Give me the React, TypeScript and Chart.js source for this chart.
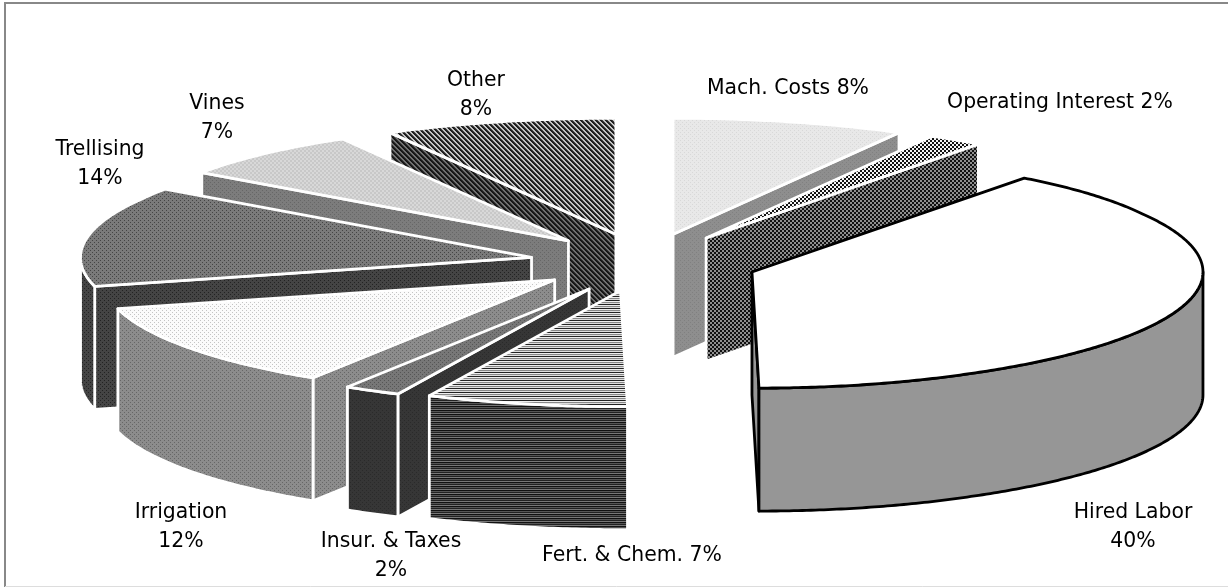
import React, { useEffect, useRef } from "react";
import { Chart, registerables } from "chart.js";

Chart.register(...registerables);

// Budget shares, clockwise from the first slice.
const categories = [
  "Hired Labor",
  "Fert. & Chem.",
  "Insur. & Taxes",
  "Irrigation",
  "Trellising",
  "Vines",
  "Other",
  "Mach. Costs",
  "Operating Interest",
];
const shares = [40, 7, 2, 12, 14, 7, 8, 8, 2];
// How far each slice is pulled out of the pie.
const explode = [113, 110, 115, 111, 115, 115, 115, 115, 115];

// Label anchors: centre x, first line middle y, and whether the percent wraps.
const labelPlacement: [number, number, boolean][] = [
  [1133, 513, true],
  [632, 556, false],
  [391, 542, true],
  [181, 513, true],
  [100, 150, true],
  [217, 104, true],
  [476, 81, true],
  [788, 89, false],
  [1060, 103, false],
];

const WIDTH = 1228;
const HEIGHT = 587;
const SQUASH = 0.2574;
const DEPTH = 123;
// Small rim corrections for the off-axis camera: a drift near the front, a flare near the back.
const FRONT_LEAN = 7;
const FRONT_LEAN_SPAN = 0.5;
const BACK_FLARE = 9;
const BACK_FLARE_PEAK = Math.PI / 6;

function tile(w: number, h: number, colorAt: (x: number, y: number) => string) {
  const c = document.createElement("canvas");
  c.width = w;
  c.height = h;
  const g = c.getContext("2d")!;
  for (let y = 0; y < h; y++) {
    for (let x = 0; x < w; x++) {
      g.fillStyle = colorAt(x, y);
      g.fillRect(x, y, 1, 1);
    }
  }
  return g.createPattern(c, "repeat")!;
}

const bands = (colors: string[]) => tile(1, colors.length, (_x, y) => colors[y]);
const diagonal = (colors: string[]) =>
  tile(colors.length, colors.length, (x, y) => colors[(x - y + colors.length * 2) % colors.length]);
const checker = (a: string, b: string) =>
  tile(4, 4, (x, y) => ((Math.floor(x / 2) + Math.floor(y / 2)) % 2 ? a : b));
const staggered = (base: string, dot: string) =>
  tile(4, 4, (x, y) => ((x === 0 && y === 0) || (x === 2 && y === 2) ? dot : base));

// Draws each slice as an extruded wedge from the arc geometry Chart.js computed.
const extrudedPie = {
  id: "extrudedPie",
  beforeDraw(chart: any) {
    const { ctx } = chart;
    ctx.save();
    ctx.fillStyle = "#ffffff";
    ctx.fillRect(0, 0, WIDTH, HEIGHT);
    ctx.strokeStyle = "#888888";
    ctx.lineWidth = 2;
    ctx.beginPath();
    ctx.moveTo(5, HEIGHT);
    ctx.lineTo(5, 3);
    ctx.lineTo(WIDTH, 3);
    ctx.stroke();
    ctx.strokeStyle = "#dddddd";
    ctx.lineWidth = 1;
    ctx.beginPath();
    ctx.moveTo(5, HEIGHT - 0.5);
    ctx.lineTo(WIDTH, HEIGHT - 0.5);
    ctx.stroke();
    ctx.restore();
  },
  beforeDatasetDraw(chart: any) {
    const { ctx } = chart;
    const meta = chart.getDatasetMeta(0);
    const sides = chart.data.datasets[0].sideColor;

    const wedges = meta.data.map((arc: any, index: number) => {
      const mid = (arc.startAngle + arc.endAngle) / 2;
      const off = arc.options.offset;
      return {
        index,
        arc,
        a0: arc.startAngle,
        a1: arc.endAngle,
        r: arc.outerRadius,
        x: arc.x + Math.cos(mid) * off,
        y: arc.y + Math.sin(mid) * off * SQUASH,
      };
    });
    wedges.sort((p: any, q: any) => p.y - q.y);

    for (const w of wedges) {
      const rim = (a: number) => {
        const fromFront = Math.abs(Math.atan2(Math.sin(a - Math.PI / 2), Math.cos(a - Math.PI / 2)));
        const lean = FRONT_LEAN * Math.max(0, 1 - fromFront / FRONT_LEAN_SPAN);
        const fromBack = Math.PI - fromFront;
        const flare =
          BACK_FLARE * Math.max(0, 1 - Math.abs(fromBack - BACK_FLARE_PEAK) / BACK_FLARE_PEAK) * Math.sign(Math.cos(a));
        return [w.x + w.r * Math.cos(a) + lean + flare, w.y + w.r * SQUASH * Math.sin(a)];
      };
      const traceRim = (from: number, to: number, drop: number) => {
        const steps = Math.max(2, Math.ceil(Math.abs(to - from) / 0.01));
        for (let i = 0; i <= steps; i++) {
          const [px, py] = rim(from + ((to - from) * i) / steps);
          ctx.lineTo(px, py + drop);
        }
      };
      const opts = w.arc.options;
      ctx.save();
      ctx.strokeStyle = opts.borderColor;
      ctx.lineWidth = opts.borderWidth;
      ctx.lineJoin = "round";

      const radialWall = (a: number) => {
        const [px, py] = rim(a);
        ctx.beginPath();
        ctx.moveTo(w.x, w.y);
        ctx.lineTo(px, py);
        ctx.lineTo(px, py + DEPTH);
        ctx.lineTo(w.x, w.y + DEPTH);
        ctx.closePath();
        ctx.fillStyle = sides[w.index];
        ctx.fill();
        ctx.stroke();
      };

      // Cut faces that turn towards the viewer.
      if (rim(w.a0)[0] < w.x - 0.5) radialWall(w.a0);
      if (rim(w.a1)[0] > w.x + 0.5) radialWall(w.a1);

      // Curved outer wall, only along the front half of the ellipse.
      const ranges: [number, number][] = [
        [w.a0, w.a1],
        [w.a0 - Math.PI * 2, w.a1 - Math.PI * 2],
      ];
      for (const [s, e] of ranges) {
        const from = Math.max(s, 0);
        const to = Math.min(e, Math.PI);
        if (to <= from) continue;
        ctx.beginPath();
        traceRim(from, to, 0);
        traceRim(to, from, DEPTH);
        ctx.closePath();
        ctx.fillStyle = sides[w.index];
        ctx.fill();
        ctx.stroke();
      }

      // Top face.
      ctx.beginPath();
      ctx.moveTo(w.x, w.y);
      traceRim(w.a0, w.a1, 0);
      ctx.closePath();
      ctx.fillStyle = opts.backgroundColor;
      ctx.fill();
      ctx.stroke();
      ctx.restore();
    }
    return false;
  },
  afterDatasetsDraw(chart: any) {
    const { ctx } = chart;
    const values = chart.data.datasets[0].data;
    ctx.save();
    ctx.fillStyle = "#000000";
    ctx.font = '20.4px "DejaVu Sans"';
    ctx.textAlign = "center";
    ctx.textBaseline = "middle";
    chart.data.labels.forEach((name: string, i: number) => {
      const [x, y, wrap] = labelPlacement[i];
      if (wrap) {
        ctx.fillText(name, x, y);
        ctx.fillText(`${values[i]}%`, x, y + 28.5);
      } else {
        ctx.fillText(`${name} ${values[i]}%`, x, y);
      }
    });
    ctx.restore();
  },
};

export default function App() {
  const ref = useRef<HTMLCanvasElement>(null);

  useEffect(() => {
    const tops = [
      "#ffffff",
      bands(["#222222", "#eeeeee", "#888888", "#dddddd"]),
      staggered("#777777", "#555555"),
      staggered("#fbfbfb", "#c4c4c4"),
      staggered("#7a7a7a", "#444444"),
      checker("#c8c8c8", "#d8d8d8"),
      diagonal(["#1a1a1a", "#222222", "#444444", "#c8c8c8", "#c0c0c0"]),
      staggered("#e8e8e8", "#d8d8d8"),
      checker("#111111", "#f4f4f4"),
    ];
    const sideColor = [
      "#969696",
      bands(["#222222", "#777777", "#111111", "#555555"]),
      staggered("#363636", "#2a2a2a"),
      staggered("#8c8c8c", "#666666"),
      staggered("#444444", "#222222"),
      staggered("#7c7c7c", "#666666"),
      diagonal(["#111111", "#1a1a1a", "#333333", "#777777", "#666666"]),
      staggered("#8e8e8e", "#808080"),
      checker("#111111", "#8f8f8f"),
    ];
    const edge = ["#000000", "#fff", "#fff", "#fff", "#fff", "#fff", "#fff", "#fff", "#fff"];

    const chart = new Chart(ref.current!, {
      type: "pie",
      data: {
        labels: categories,
        datasets: [
          {
            data: shares,
            backgroundColor: tops,
            borderColor: edge,
            borderWidth: 2.8,
            offset: explode,
            sideColor,
          } as any,
        ],
      },
      options: {
        responsive: false,
        animation: false,
        radius: 451,
        rotation: 36,
        layout: { padding: { left: 61, bottom: 61 } },
        plugins: { legend: { display: false }, tooltip: { enabled: false } },
      } as any,
      plugins: [extrudedPie],
    });
    return () => chart.destroy();
  }, []);

  return (
    <div style={{ position: "fixed", left: 0, top: 0 }}>
      <canvas ref={ref} width={WIDTH} height={HEIGHT} style={{ display: "block" }} />
    </div>
  );
}
